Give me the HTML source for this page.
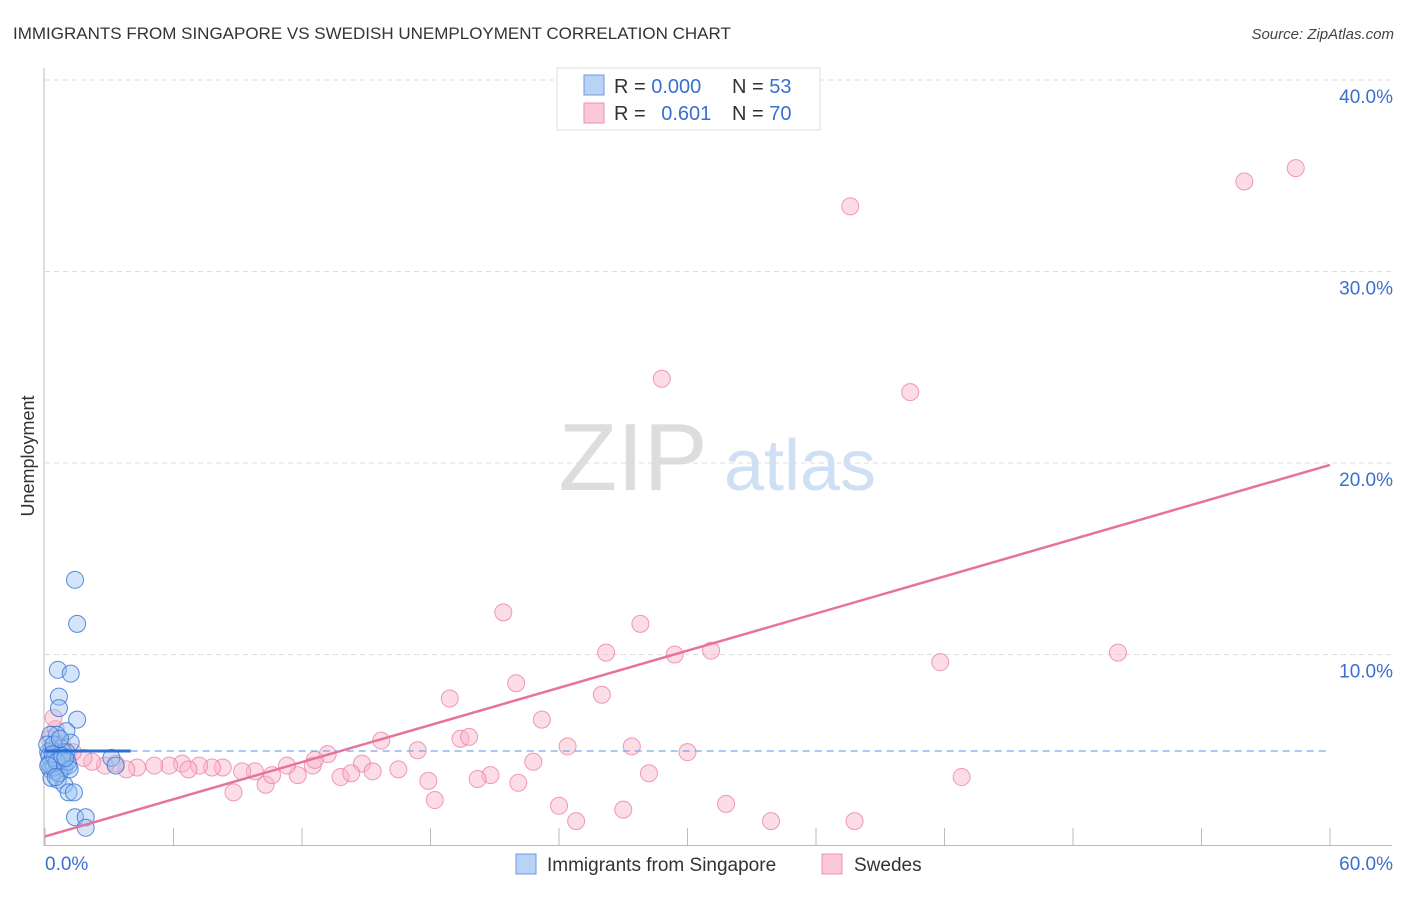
<!DOCTYPE html>
<html><head><meta charset="utf-8"><style>
body{margin:0;background:#fff;font-family:"Liberation Sans",sans-serif}
svg text{font-family:"Liberation Sans",sans-serif}
</style></head><body>
<svg id="chart" width="1406" height="892" viewBox="0 0 1406 892" xmlns="http://www.w3.org/2000/svg">
<text x="13" y="39" font-size="17" fill="#333">IMMIGRANTS FROM SINGAPORE VS SWEDISH UNEMPLOYMENT CORRELATION CHART</text>
<text x="1394" y="39" font-size="15" fill="#444" text-anchor="end" font-style="italic">Source: ZipAtlas.com</text>
<g>
<text x="633" y="490" font-size="96" fill="#ddd" text-anchor="middle" font-family="Liberation Serif">ZIP</text>
<text x="800" y="490" font-size="72" fill="#cfe0f5" text-anchor="middle">atlas</text>
</g>
<g id="grid"></g>
<g id="axes"></g>
<g id="points"></g>
<g id="trends"></g>
<text transform="translate(34,456) rotate(-90)" font-size="18" fill="#333" text-anchor="middle">Unemployment</text>
<g>
<rect x="557" y="68" width="263" height="62" fill="#fff" stroke="#ddd"/>
<rect x="584" y="75" width="20" height="20" fill="#b8d3f5" stroke="#6b9de0"/>
<rect x="584" y="103" width="20" height="20" fill="#fac8d6" stroke="#ee90ad"/>
<text x="614" y="93" font-size="20" fill="#333">R = <tspan fill="#3a6fd0">0.000</tspan></text>
<text x="732" y="93" font-size="20" fill="#333">N = <tspan fill="#3a6fd0">53</tspan></text>
<text x="614" y="120" font-size="20" fill="#333">R = <tspan fill="#3a6fd0" dx="10">0.601</tspan></text>
<text x="732" y="120" font-size="20" fill="#333">N = <tspan fill="#3a6fd0">70</tspan></text>
</g>
<g>
<rect x="516" y="854" width="20" height="20" fill="#b8d3f5" stroke="#6b9de0"/>
<text x="547" y="871" font-size="19" fill="#333">Immigrants from Singapore</text>
<rect x="822" y="854" width="20" height="20" fill="#fac8d6" stroke="#ee90ad"/>
<text x="854" y="871" font-size="19" fill="#333">Swedes</text>
</g>
</svg>
<script>
const xTicks=[0,6,12,18,24,30,36,42,48,54,60];
const yTicks=[10,20,30,40];
const yTickLabels=["10.0%","20.0%","30.0%","40.0%"];
const blueX=[1.4,1.5,0.6,1.2,0.65,0.65,1.5,1.0,0.55,0.25,1.2,0.75,0.3,3.1,3.3,0.15,0.5,0.7,0.9,0.3,0.6,0.9,0.25,0.5,0.8,1.1,0.3,0.6,0.9,1.1,1.35,1.4,1.9,1.9,0.1,0.2,0.4,0.85,1.0,0.4,0.65,0.75,0.2,0.45,1.05,0.35,0.55,0.15,0.8,1.15,0.5,0.95,0.7];
const blueY=[13.9,11.6,9.2,9.0,7.8,7.2,6.6,6.0,5.8,5.8,5.4,5.1,5.0,4.6,4.2,4.9,4.75,4.6,4.5,4.4,4.2,4.1,4.0,3.9,4.1,4.2,3.55,3.45,3.2,2.8,2.8,1.5,1.5,0.95,5.3,4.7,5.3,4.9,4.9,4.1,3.8,4.5,4.3,4.6,4.4,4.8,4.4,4.2,4.7,4.0,3.6,4.6,5.6];
const pinkX=[37.6,56.0,58.4,28.8,40.4,21.4,27.8,26.2,29.4,31.1,41.8,50.1,18.9,22.0,26.0,23.2,19.4,19.8,15.7,24.4,27.4,30.0,17.4,13.2,22.8,14.8,20.8,28.2,42.8,17.9,20.2,22.1,18.2,24.0,27.0,31.8,24.8,33.9,37.8,8.8,10.3,11.8,10.6,9.8,9.2,8.3,7.8,7.2,6.4,5.8,5.1,4.3,3.8,3.3,2.8,2.2,1.8,1.3,0.8,0.5,0.4,13.8,15.3,16.5,12.5,11.3,6.7,14.3,12.6,0.2];
const pinkY=[33.4,34.7,35.4,24.4,23.7,12.2,11.6,10.1,10.0,10.2,9.6,10.1,7.7,8.5,7.9,6.6,5.6,5.7,5.5,5.2,5.2,4.9,5.0,4.8,4.4,4.3,3.7,3.8,3.6,3.4,3.5,3.3,2.4,2.1,1.9,2.2,1.3,1.3,1.3,2.8,3.2,3.7,3.7,3.9,3.9,4.1,4.1,4.2,4.3,4.2,4.2,4.1,4.0,4.3,4.2,4.4,4.6,4.9,5.3,6.1,6.7,3.6,3.9,4.0,4.2,4.2,4.0,3.8,4.5,5.6];
const blueTrend=[0,4.96,4,4.96,60,4.96];
const pinkTrend=[0,0.5,60,19.9];
const NS="http://www.w3.org/2000/svg";
const X=v=>45+v/60*1285, Y=v=>846-v*19.15;
function mk(p,t,a){const e=document.createElementNS(NS,t);for(const k in a)e.setAttribute(k,a[k]);document.getElementById(p).appendChild(e);return e;}
yTicks.forEach((t,i)=>{
 const l=mk('grid','line',{x1:45,x2:1392,y1:Y(t),y2:Y(t),stroke:'#ddd','stroke-dasharray':'5,4'});
 
 
 const tx=mk('grid','text',{x:1393,y:Y(t)+23,'font-size':19,fill:'#3a6fd0','text-anchor':'end'});
 tx.textContent=yTickLabels[i];
 
 
});
let a=mk('axes','line',{x1:44,x2:44,y1:68,y2:846,stroke:'#bbb'});


a=mk('axes','line',{x1:44,x2:1392,y1:845.5,y2:845.5,stroke:'#bbb'});


xTicks.forEach(t=>{const e=mk('axes','line',{x1:X(t),x2:X(t),y1:828,y2:846,stroke:'#bbb'});
 
 });
let lx=mk('axes','text',{x:45,y:870,'font-size':19,fill:'#3a6fd0'});lx.textContent='0.0%';


lx=mk('axes','text',{x:1393,y:870,'font-size':19,fill:'#3a6fd0','text-anchor':'end'});lx.textContent='60.0%';


pinkX.forEach((v,i)=>{const c=mk('points','circle',{cx:X(v),cy:Y(pinkY[i]),r:8.5,fill:'rgba(248,180,200,0.45)',stroke:'rgba(235,130,165,0.8)','stroke-width':1});
 
 });
blueX.forEach((v,i)=>{const c=mk('points','circle',{cx:X(v),cy:Y(blueY[i]),r:8.5,fill:'rgba(150,190,240,0.4)',stroke:'rgba(60,120,215,0.85)','stroke-width':1});
 
 });
let t=mk('trends','line',{x1:X(blueTrend[0]),y1:Y(blueTrend[1]),x2:X(blueTrend[2]),y2:Y(blueTrend[3]),stroke:'#2a6fd6','stroke-width':3});


t=mk('trends','line',{x1:X(blueTrend[2]),y1:Y(blueTrend[3]),x2:X(blueTrend[4]),y2:Y(blueTrend[5]),stroke:'#7aa6e6','stroke-width':1.3,'stroke-dasharray':'7,5'});


t=mk('trends','line',{x1:X(pinkTrend[0]),y1:Y(pinkTrend[1]),x2:X(pinkTrend[2]),y2:Y(pinkTrend[3]),stroke:'#e8739a','stroke-width':2.5});


</script>
</body></html>
